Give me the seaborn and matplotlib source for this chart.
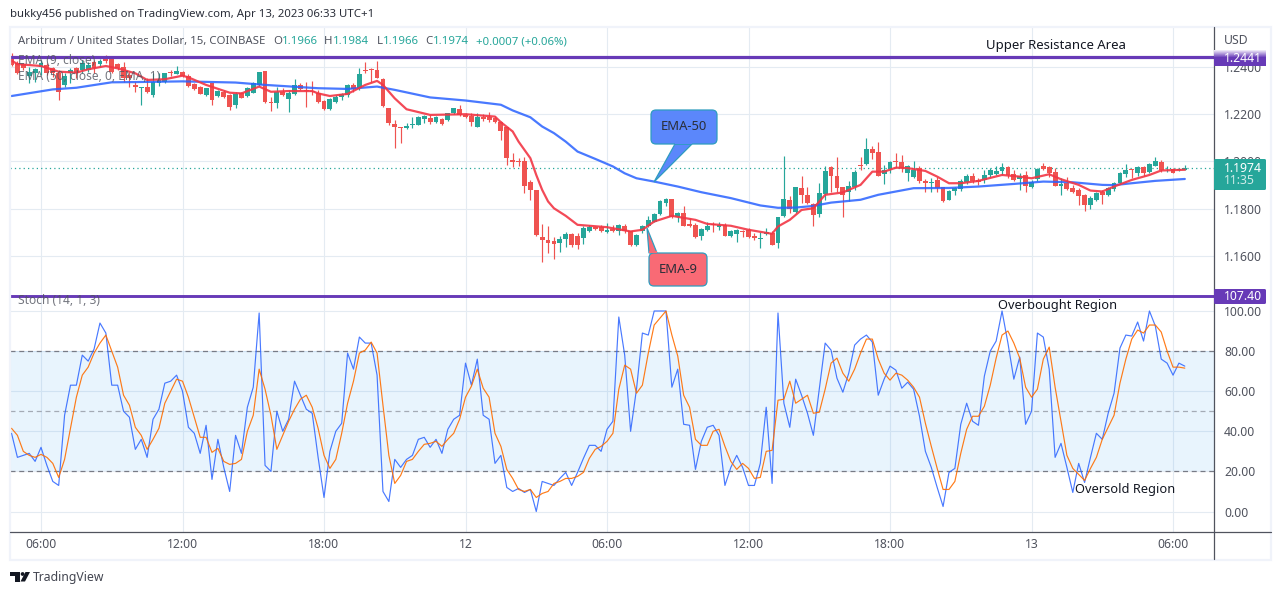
import numpy as np
import pandas as pd
import seaborn as sns
import matplotlib.pyplot as plt
from matplotlib.patches import FancyBboxPatch, Polygon, Rectangle, Circle

# candles, one value per 15 min bar, oldest first
opens = [
    1.2444,1.2418,1.2412,1.2362,1.2373,1.2401,1.2408,1.2394,1.2373,1.2324,
    1.2373,1.2394,1.2387,1.2387,1.2422,1.2412,1.2436,1.2436,1.2412,1.2401,
    1.2366,1.2322,1.2310,1.2314,1.2281,1.2334,1.2338,1.2377,1.2370,1.2380,
    1.2363,1.2326,1.2317,1.2281,1.2331,1.2277,1.2295,1.2281,1.2239,1.2288,
    1.2277,1.2291,1.2324,1.2383,1.2250,1.2249,1.2295,1.2264,1.2286,1.2324,
    1.2303,1.2300,1.2288,1.2257,1.2222,1.2252,1.2271,1.2281,1.2324,1.2310,
    1.2387,1.2390,1.2387,1.2349,1.2225,1.2157,1.2145,1.2140,1.2156,1.2154,1.2181,
    1.2183,1.2169,1.2179,1.2176,1.2204,1.2221,1.2197,1.2193,1.2148,1.2190,
    1.2190,1.2183,1.2169,1.2145,1.2007,1.2004,1.2003,1.1914,1.1880,1.1681,
    1.1669,1.1664,1.1657,1.1673,1.1694,1.1683,1.1678,1.1707,1.1722,1.1721,
    1.1700,1.1715,1.1704,1.1728,1.1704,1.1645,1.1704,1.1725,1.1746,1.1778,
    1.1826,1.1842,1.1767,1.1781,1.1736,1.1732,1.1685,1.1711,1.1736,1.1721,
    1.1732,1.1683,1.1694,1.1705,1.1711,1.1685,1.1674,1.1694,1.1697,1.1654,
    1.1770,1.1838,1.1785,1.1888,1.1859,1.1821,1.1778,1.1863,1.1977,1.1939,
    1.1891,1.1873,1.1894,1.1986,1.1990,1.2053,1.2041,1.1946,1.1967,1.2001,
    1.1998,1.1953,1.1933,1.1974,1.1918,1.1907,1.1922,1.1891,1.1838,1.1877,
    1.1884,1.1914,1.1939,1.1922,1.1922,1.1943,1.1948,1.1960,1.1977,1.1946,
    1.1926,1.1943,1.1893,1.1925,1.1981,1.1977,1.1956,1.1898,1.1908,1.1888,
    1.1880,1.1859,1.1816,1.1838,1.1869,1.1859,1.1883,1.1908,1.1946,1.1967,
    1.1953,1.1976,1.1957,1.1983,1.1998,1.1962,1.1969,1.1962,1.1966,
]
highs = [
    1.2458,1.2427,1.2418,1.2401,1.2394,1.2429,1.2415,1.2401,1.2387,1.2373,
    1.2394,1.2401,1.2429,1.2422,1.2429,1.2432,1.2451,1.2444,1.2415,1.2422,
    1.2380,1.2338,1.2314,1.2352,1.2373,1.2373,1.2376,1.2387,1.2404,1.2384,
    1.2369,1.2334,1.2319,1.2312,1.2334,1.2303,1.2303,1.2284,1.2295,1.2295,
    1.2317,1.2338,1.2380,1.2383,1.2274,1.2317,1.2312,1.2303,1.2348,1.2334,
    1.2338,1.2342,1.2303,1.2260,1.2267,1.2281,1.2288,1.2326,1.2331,1.2394,
    1.2421,1.2394,1.2425,1.2352,1.2228,1.2176,1.2145,1.2162,1.2190,1.2193,1.2197,
    1.2197,1.2193,1.2183,1.2207,1.2228,1.2240,1.2204,1.2204,1.2204,1.2201,
    1.2211,1.2193,1.2173,1.2148,1.2035,1.2014,1.2021,1.1922,1.1880,1.1735,
    1.1729,1.1680,1.1683,1.1700,1.1697,1.1697,1.1725,1.1732,1.1729,1.1732,
    1.1739,1.1732,1.1735,1.1735,1.1708,1.1694,1.1732,1.1770,1.1781,1.1838,
    1.1845,1.1842,1.1788,1.1812,1.1760,1.1739,1.1718,1.1746,1.1742,1.1742,
    1.1739,1.1711,1.1714,1.1711,1.1718,1.1697,1.1700,1.1718,1.1704,1.1767,
    1.2024,1.1855,1.1894,1.1939,1.1894,1.1824,1.1911,1.1979,1.1981,1.2021,
    1.1894,1.1919,1.1962,1.2021,1.2100,1.2066,1.2083,1.1986,1.2004,1.2036,
    1.2028,1.1986,1.2003,1.1979,1.1925,1.1929,1.1936,1.1894,1.1880,1.1894,
    1.1925,1.1948,1.1950,1.1929,1.1965,1.1972,1.1979,1.1993,1.1979,1.1965,
    1.1950,1.1960,1.1922,1.1974,1.1993,1.1983,1.1972,1.1929,1.1936,1.1901,
    1.1887,1.1863,1.1855,1.1873,1.1880,1.1891,1.1912,1.1957,1.1990,1.1967,
    1.1981,1.1979,1.1993,1.2019,1.2007,1.1979,1.1972,1.1969,1.1984,
]
lows = [
    1.2404,1.2370,1.2387,1.2334,1.2338,1.2366,1.2366,1.2359,1.2260,1.2317,
    1.2331,1.2352,1.2373,1.2380,1.2373,1.2401,1.2415,1.2373,1.2387,1.2338,
    1.2317,1.2295,1.2239,1.2291,1.2274,1.2319,1.2331,1.2362,1.2369,1.2359,
    1.2317,1.2303,1.2284,1.2277,1.2239,1.2271,1.2267,1.2218,1.2228,1.2267,
    1.2271,1.2288,1.2319,1.2246,1.2215,1.2225,1.2277,1.2211,1.2281,1.2303,
    1.2232,1.2281,1.2249,1.2218,1.2218,1.2249,1.2260,1.2271,1.2295,1.2303,
    1.2373,1.2338,1.2352,1.2232,1.2154,1.2059,1.2077,1.2136,1.2140,1.2153,1.2164,
    1.2158,1.2162,1.2155,1.2172,1.2201,1.2193,1.2183,1.2152,1.2145,1.2173,
    1.2169,1.2162,1.2092,1.1986,1.1976,1.1979,1.1866,1.1838,1.1683,1.1573,
    1.1612,1.1588,1.1619,1.1640,1.1640,1.1629,1.1652,1.1700,1.1711,1.1701,
    1.1697,1.1701,1.1690,1.1697,1.1643,1.1643,1.1697,1.1722,1.1742,1.1774,
    1.1812,1.1762,1.1746,1.1725,1.1722,1.1676,1.1669,1.1708,1.1700,1.1711,
    1.1683,1.1680,1.1661,1.1680,1.1678,1.1669,1.1636,1.1690,1.1646,1.1636,
    1.1767,1.1784,1.1784,1.1824,1.1819,1.1728,1.1767,1.1838,1.1873,1.1873,
    1.1764,1.1833,1.1880,1.1965,1.1986,1.2010,1.1939,1.1905,1.1950,1.1972,
    1.1957,1.1918,1.1932,1.1908,1.1869,1.1873,1.1873,1.1829,1.1835,1.1859,
    1.1877,1.1905,1.1908,1.1901,1.1911,1.1936,1.1943,1.1943,1.1932,1.1919,
    1.1880,1.1873,1.1887,1.1919,1.1962,1.1933,1.1897,1.1859,1.1880,1.1866,
    1.1816,1.1792,1.1800,1.1833,1.1821,1.1855,1.1877,1.1905,1.1936,1.1929,
    1.1939,1.1939,1.1953,1.1979,1.1957,1.1957,1.1950,1.1960,1.1966,
]
closes = [
    1.2408,1.2376,1.2394,1.2380,1.2390,1.2418,1.2373,1.2373,1.2295,1.2362,
    1.2387,1.2373,1.2418,1.2408,1.2394,1.2427,1.2427,1.2380,1.2394,1.2352,
    1.2352,1.2317,1.2314,1.2295,1.2338,1.2345,1.2373,1.2373,1.2383,1.2362,
    1.2319,1.2305,1.2286,1.2310,1.2260,1.2298,1.2271,1.2229,1.2286,1.2270,
    1.2310,1.2331,1.2377,1.2253,1.2246,1.2295,1.2281,1.2288,1.2324,1.2307,
    1.2298,1.2295,1.2253,1.2221,1.2264,1.2274,1.2284,1.2324,1.2305,1.2369,
    1.2383,1.2386,1.2355,1.2235,1.2164,1.2147,1.2140,1.2150,1.2159,1.2190,1.2193,
    1.2166,1.2187,1.2159,1.2204,1.2225,1.2197,1.2187,1.2169,1.2187,1.2179,
    1.2176,1.2165,1.2127,1.2014,1.1997,1.1998,1.1897,1.1880,1.1687,1.1666,
    1.1657,1.1652,1.1673,1.1694,1.1647,1.1647,1.1718,1.1722,1.1714,1.1704,
    1.1711,1.1704,1.1731,1.1704,1.1645,1.1690,1.1728,1.1753,1.1777,1.1833,
    1.1842,1.1764,1.1781,1.1728,1.1729,1.1680,1.1714,1.1728,1.1731,1.1732,
    1.1685,1.1707,1.1711,1.1700,1.1681,1.1678,1.1677,1.1700,1.1647,1.1764,
    1.1842,1.1798,1.1890,1.1859,1.1824,1.1774,1.1866,1.1960,1.1939,1.1888,
    1.1859,1.1897,1.1957,1.1979,1.2053,1.2036,1.1940,1.1965,1.1998,1.1996,
    1.1972,1.1979,1.1965,1.1918,1.1907,1.1914,1.1887,1.1833,1.1876,1.1887,
    1.1917,1.1940,1.1918,1.1914,1.1943,1.1965,1.1960,1.1977,1.1943,1.1922,
    1.1939,1.1897,1.1915,1.1969,1.1969,1.1950,1.1898,1.1905,1.1884,1.1869,
    1.1855,1.1816,1.1846,1.1866,1.1860,1.1887,1.1908,1.1950,1.1965,1.1962,
    1.1977,1.1950,1.1990,1.2000,1.1962,1.1965,1.1953,1.1967,1.1974,
]

# moving averages, read at the bars where they bend
ema9_bars = [-5,-4,0,3,6,8,11,13,16,18,21,24,25,28,32,34,37,39,42,46,47,49,52,55,57,58,60,62,66,
             72,77,78,80,81,83,84,85,86,87,89,91,96,100,102,104,107,111,113,117,120,124,
             125,127,129,131,133,136,139,141,143,145,147,150,152,154,156,159,163,166,168,171,173,176,178,180,182,185,188,190,194]
ema9_vals = [1.2427,1.2412,1.2404,1.2380,1.2376,1.2390,1.2404,1.2394,1.2373,1.2345,1.2348,1.2363,1.2356,1.2324,1.2291,
             1.2288,1.2317,1.2295,1.2298,1.2298,1.2288,1.2277,1.2286,1.2324,1.2341,1.2324,1.2267,1.2221,1.2197,
             1.2200,1.2190,1.2166,1.2127,1.2084,1.2014,1.1943,1.1880,1.1831,1.1802,1.1770,1.1732,1.1722,1.1704,1.1711,1.1746,1.1770,1.1753,1.1736,1.1728,1.1711,1.1694,
             1.1725,1.1753,1.1795,1.1802,1.1859,1.1869,1.1901,1.1957,1.1957,1.1974,1.1972,1.1960,1.1936,1.1908,1.1908,1.1918,
             1.1943,1.1936,1.1929,1.1946,1.1925,1.1901,1.1877,1.1873,1.1894,1.1922,1.1943,1.1962,1.1965]
ema50_bars = [-5,2,6,12,16,24,33,38,47,52,57,60,66,72,78,80,83,85,87,89,91,94,97,99,101,104,108,112,117,122,
              125,128,131,134,139,142,148,154,159,165,170,175,180,182,185,189,194]
ema50_vals = [1.2277,1.2305,1.2312,1.2335,1.2336,1.2339,1.2334,1.2324,1.2310,1.2307,1.2317,1.2303,1.2271,
              1.2258,1.2240,1.2216,1.2187,1.2148,1.2120,1.2084,1.2042,1.2011,1.1979,1.1950,1.1929,1.1915,1.1894,1.1870,1.1845,1.1814,
              1.1804,1.1805,1.1812,1.1826,1.1838,1.1859,1.1887,1.1888,1.1894,1.1905,1.1915,1.1912,1.1901,1.1900,1.1908,1.1918,1.1926]

# stochastic, one value per bar
stoch_k = [
    39,27,28,29,25,32,23,15,13,48,
    63,63,78,75,81,94,89,63,63,50,
    47,31,36,27,46,51,64,65,68,60,
    42,39,29,43,16,36,22,10,38,29,
    52,62,99,23,20,50,40,46,65,58,
    51,49,27,7,30,40,44,79,71,87,
    84,84,68,10,5,26,22,26,28,36,37,
    32,36,29,41,46,48,74,63,76,48,
    46,24,28,12,10,11.5,9.5,11,0,15,
    14,13,16.5,19.5,13,19.5,26.5,33,33,30,
    41,45,97,78,40,61,89,88,100,100,
    100,62,71,43.5,43,21,35,42,43,38,
    13,22,28,22,13,13,24,52,14,99,
    54,42,66,58,49,38,61,84,80.5,66.5,
    59.5,69,83,86,88,84.5,58,66,72.5,70.5,
    61.5,64.5,61,47.5,30,22,12,2.5,19.5,21.5,
    43.5,54,45,43,67.5,80,85,100,84,66,
    77,43.5,50,89,87,71,27,34,22,9.5,
    24,14.5,27,39,36,49,59,81.5,88,87.5,
    94.5,85,100,92.5,76,74,68,74,72.5,
]
stoch_d = [
    41.5,38,30,28,27,28.5,27,24,17,26,
    41.5,57,68,72,79,84,88,80,72,58,
    53,42,38,31,36,41.5,54,60,66,65,
    57,47,37,37,29.5,31.5,25,23.5,24,26,
    40,48,71,61,48,31,38,45,51,56,
    58,52,41.5,28,21.5,26,39,54,65,79,
    80.5,84.5,79,53,28,14,18,25,26,30,33.5,
    34,35,32.5,36,39,46,57,62.5,71,61.5,
    57,39,32.5,21,16.5,11,10,11,7,9,
    10,14,15,16.5,16.5,17.5,19.5,26.5,31,32.5,
    35,39,61,73,71,59,63,79,93,96.5,
    100,88,77.5,58,52,36,33,33,40,41,
    32.5,25,21,24,21.5,16.5,17,30,30.5,55.5,
    56,65,54,56,58,49,49.5,61,74,76.5,
    69,65,71,79,86,86,76,69,65.5,69,
    68,65.5,62,57,44,32.5,21.5,11,11,15,
    29,41,47.5,47.5,52.5,63,76.5,88,90,84,
    76.5,62,57,61,76,82,62,45,28,21.5,
    18.5,15.5,21.5,27,36,42,48,64,76,86,
    90.5,89,93,93,89.5,80,72,72,71.5,
]

time_ticks = [0, 24, 48, 72, 96, 120, 144, 168, 192]
time_labels = ['06:00', '12:00', '18:00', '12', '06:00', '12:00', '18:00', '13', '06:00']
price_ticks = [1.24, 1.22, 1.20, 1.18, 1.16]
stoch_ticks = [0, 20, 40, 60, 80, 100]
resistance = 1.2441
last_price = 1.1974
stoch_top = 107.40

UP = '#26a69a'
DOWN = '#ef5350'
PURPLE = '#673ab7'
GRID = '#e4ebf2'
AXIS = '#50535e'
TEXT = '#131722'

sns.set_theme(style='white')
plt.rcParams['font.family'] = ['Noto Sans', 'DejaVu Sans']

W, H = 1280, 595
fig = plt.figure(figsize=(W / 100, H / 100), dpi=100, facecolor='white')


def pane(top, bottom):
    return fig.add_axes([10 / W, 1 - bottom / H, 1204 / W, (bottom - top) / H])


def px(n):
    return n * 0.72


ax = pane(27, 295.5)
ax2 = pane(295.5, 532)

df = pd.DataFrame({'bar': np.arange(-5, 195), 'open': opens, 'high': highs, 'low': lows,
                   'close': closes, 'k': stoch_k, 'd': stoch_d})
df['color'] = np.where(df['close'] >= df['open'], UP, DOWN)

for a in (ax, ax2):
    a.set_xlim(-5.258, 198.95)
    a.set_xticks(time_ticks)
    a.grid(True, color=GRID, linewidth=0.8, zorder=0)
    a.set_axisbelow(True)
    a.yaxis.tick_right()
    a.tick_params(axis='y', length=0, pad=px(10), labelsize=px(12.2), labelcolor=AXIS)
    for s in a.spines.values():
        s.set_visible(False)

# price pane
ax.set_ylim(1.1433, 1.2569)
ax.set_yticks(price_ticks)
ax.set_yticklabels(['%.4f' % t for t in price_ticks])
ax.tick_params(axis='x', length=0, labelbottom=False)
ax.vlines(df['bar'], df['low'], df['high'], colors=df['color'], linewidth=0.85, zorder=2)
ax.bar(df['bar'], (df['close'] - df['open']).abs(), bottom=df[['open', 'close']].min(axis=1),
       width=0.82, color=df['color'], linewidth=0, zorder=3)
sns.lineplot(x=ema50_bars, y=ema50_vals, ax=ax, color='#2962ff', linewidth=1.6, alpha=0.85, zorder=4)
sns.lineplot(x=ema9_bars, y=ema9_vals, ax=ax, color='#f23645', linewidth=1.6, alpha=0.9, zorder=5)
ax.axhline(last_price, color=UP, linewidth=0.9, linestyle=(0, (1, 2.5)), zorder=1)
ax.axhline(resistance, color=PURPLE, linewidth=2.3, zorder=6)
ax.set_xlabel('')

# stochastic pane
ax2.set_ylim(-10.22, 107.73)
ax2.set_yticks(stoch_ticks)
ax2.set_yticklabels(['%.2f' % t for t in stoch_ticks])
ax2.set_xticklabels(time_labels)
ax2.tick_params(axis='x', length=0, pad=px(6), labelsize=px(12.2), labelcolor=AXIS)
for lab, txt in zip(ax2.get_xticklabels(), time_labels):
    if len(txt) == 2:
        lab.set_fontweight('bold')
ax2.axhspan(20, 80, color='#2196f3', alpha=0.1, linewidth=0, zorder=1)
ax2.axhline(80, color='#787b86', linewidth=0.9, linestyle=(0, (4, 3)), zorder=2)
ax2.axhline(50, color='#787b86', linewidth=0.9, alpha=0.6, linestyle=(0, (4, 3)), zorder=2)
ax2.axhline(20, color='#787b86', linewidth=0.9, linestyle=(0, (4, 3)), zorder=2)
sns.lineplot(data=df, x='bar', y='k', ax=ax2, color='#2962ff', linewidth=0.85, alpha=0.85, zorder=3)
sns.lineplot(data=df, x='bar', y='d', ax=ax2, color='#ff6d00', linewidth=0.85, alpha=0.9, zorder=4)
ax2.axhline(stoch_top, color=PURPLE, linewidth=2.1, zorder=6, clip_on=False)
ax2.set_xlabel('')
ax2.set_ylabel('')
ax.set_ylabel('')

# everything drawn on top of the panes, in screen pixels
ov = fig.add_axes([0, 0, 1, 1], facecolor='none')
grad = np.ones((8, 1, 3))
purple_rgb = np.array([0x67, 0x3a, 0xb7]) / 255
for row in range(8):
    grad[row, 0] = 1 + (purple_rgb - 1) * (row + 1) / 8
ov.imshow(grad, extent=(1214, 1266, 58, 50), aspect='auto', zorder=5)
ov.set_xlim(0, W)
ov.set_ylim(H, 0)
ov.axis('off')

# frame
ov.add_patch(Rectangle((9.5, 27), 1261.5, 533, fill=False, edgecolor='#f0f3fa', linewidth=1.6))
ov.plot([10, 1271], [532, 532], color=AXIS, linewidth=0.9)
ov.plot([1214, 1214], [27, 559], color=AXIS, linewidth=0.9)


def label(x, y, s, color=TEXT, size=12.5, **kw):
    kw.setdefault('va', 'center')
    return ov.text(x, y, s, color=color, fontsize=px(size), **kw)


label(10, 15, 'bukky456 published on TradingView.com, Apr 13, 2023 06:33 UTC+1', color='#2a2e39', size=11.4)
label(18, 41.5, 'Arbitrum / United States Dollar, 15, COINBASE', color=AXIS, size=11.4)
for x, s, c in [(273, 'O', AXIS), (282, '1.1966', UP), (324, 'H', AXIS), (333, '1.1984', UP),
                (377, 'L', AXIS), (383, '1.1966', UP), (425, 'C', AXIS), (433, '1.1974', UP),
                (476, '+0.0007 (+0.06%)', UP)]:
    label(x, 41.5, s, color=c, size=11.4)
label(18, 60, 'EMA (9, close)', color=AXIS, size=12, alpha=0.8)
label(18, 76, 'EMA (50, close, 0, EMA, 1)', color=AXIS, size=12, alpha=0.8)
label(18, 301, 'Stoch (14, 1, 3)', color=AXIS, size=12, alpha=0.8)
label(986, 46, 'Upper Resistance Area', size=13.2)
label(998, 305, 'Overbought Region', size=12.8)
label(1075, 490, 'Oversold Region', size=12.8)
label(1224, 41, 'USD', color=AXIS, size=12.2)

# price tags
ov.add_patch(Rectangle((1214, 58), 52, 8, facecolor=PURPLE, linewidth=0, zorder=5))
label(1224, 58.5, '1.2441', color='white', size=12.2, zorder=6, fontweight='medium')
ov.add_patch(FancyBboxPatch((1214, 289), 52, 15, boxstyle='round,pad=0,rounding_size=1.5',
                            facecolor=PURPLE, linewidth=0, zorder=5))
label(1224, 296.5, '107.40', color='white', size=12.2, zorder=6, fontweight='bold')
ov.add_patch(FancyBboxPatch((1214, 159), 52, 31, boxstyle='round,pad=0,rounding_size=1.5',
                            facecolor=UP, linewidth=0, zorder=5))
label(1224, 168, '1.1974', color='white', size=12.2, zorder=6, fontweight='bold')
label(1224, 181, '11:35', color='#d0ece9', size=12.2, zorder=6, fontweight='medium')


def bubble(x, y, w, h, tail, face, edge, text):
    ov.add_patch(Polygon(tail, closed=True, facecolor=face, edgecolor=edge, linewidth=0.9, zorder=7))
    ov.add_patch(FancyBboxPatch((x, y), w, h, boxstyle='round,pad=0,rounding_size=5',
                                facecolor=face, edgecolor=edge, linewidth=0.9, zorder=7))
    ov.add_patch(Polygon(tail[:1] + tail[-1:] + [(tail[-1][0], tail[0][1] - 2), (tail[0][0], tail[0][1] - 2)],
                         closed=True, facecolor=face, linewidth=0, zorder=8))
    label(x + w / 2, y + h / 2, text, color='#2a2e39', size=13, ha='center', zorder=9)


bubble(651, 110, 66, 34, [(675, 144), (654, 182), (692, 144)], '#5b87fb', '#2e9cbf', 'EMA-50')
bubble(649, 253, 58, 33, [(649, 253), (647, 228), (657, 253)], '#f96a75', '#2e9cbf', 'EMA-9')

# logo
ov.add_patch(Polygon([(10, 572), (20, 572), (20, 581.5), (15, 581.5), (15, 575.5), (10, 575.5)],
                     closed=True, facecolor=TEXT, linewidth=0))
ov.add_patch(Circle((22.6, 574), 1.9, facecolor=TEXT, linewidth=0))
ov.add_patch(Polygon([(25.5, 572), (30, 572), (25, 581.5), (20.5, 581.5)], closed=True, facecolor=TEXT, linewidth=0))
label(33, 577.5, 'TradingView', color='#434651', size=12.2)

fig.savefig('out.png', dpi=100)
